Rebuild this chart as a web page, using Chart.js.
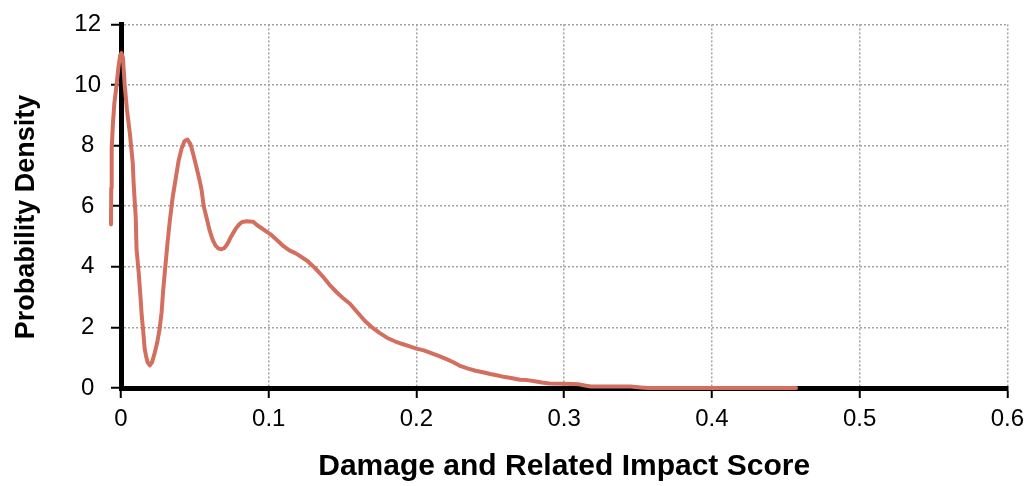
<!DOCTYPE html>
<html>
<head>
<meta charset="utf-8">
<script src="https://cdn.jsdelivr.net/npm/chart.js@4/dist/chart.umd.min.js"></script>
<style>
  html, body { margin: 0; padding: 0; background: #fff; }
</style>
</head>
<body>
<canvas id="myChart" width="1031" height="486"></canvas>
<script>
// kernel density of the damage score
const scoreX = [
  -0.0068, -0.0066, -0.0063, -0.0055, -0.0045, -0.003, -0.0017, -0.0005, 0.0003, 0.0013,
  0.0025, 0.004, 0.006, 0.008, 0.0085, 0.010, 0.0105, 0.012, 0.0135, 0.014,
  0.015, 0.016, 0.017, 0.018, 0.0195, 0.021, 0.0225, 0.0245, 0.026, 0.0275,
  0.0285, 0.030, 0.0315, 0.033, 0.035, 0.037, 0.039, 0.041, 0.043, 0.045,
  0.047, 0.049, 0.051, 0.053, 0.0545, 0.056, 0.058, 0.060, 0.062, 0.064,
  0.066, 0.068, 0.070, 0.072, 0.074, 0.076, 0.078, 0.080, 0.082, 0.085,
  0.0895, 0.092, 0.095, 0.098, 0.101, 0.104, 0.107, 0.110, 0.114, 0.118,
  0.122, 0.126, 0.130, 0.134, 0.138, 0.142, 0.146, 0.150, 0.155, 0.160,
  0.165, 0.170, 0.175, 0.180, 0.185, 0.190, 0.195, 0.200, 0.205, 0.210,
  0.215, 0.220, 0.225, 0.230, 0.235, 0.240, 0.245, 0.250, 0.255, 0.260,
  0.265, 0.270, 0.275, 0.280, 0.285, 0.290, 0.300, 0.310, 0.314, 0.318,
  0.345, 0.352, 0.357, 0.457
];
const density = [
  5.4, 6.6, 7.9, 8.7, 9.4, 10.0, 10.6, 11.0, 11.05, 10.9,
  10.0, 9.2, 8.4, 7.4, 6.8, 5.6, 4.6, 3.8, 2.8, 2.4,
  1.9, 1.3, 1.05, 0.85, 0.75, 0.85, 1.1, 1.5, 1.9, 2.5,
  3.2, 4.0, 4.8, 5.5, 6.3, 6.9, 7.5, 7.9, 8.15, 8.2,
  8.05, 7.7, 7.3, 6.9, 6.55, 6.0, 5.6, 5.2, 4.9, 4.7,
  4.6, 4.58, 4.62, 4.75, 4.95, 5.12, 5.28, 5.4, 5.48, 5.5,
  5.49, 5.38, 5.28, 5.18, 5.08, 4.95, 4.82, 4.68, 4.54, 4.45,
  4.33, 4.2, 4.02, 3.82, 3.6, 3.36, 3.16, 2.98, 2.78, 2.5,
  2.22, 2.0, 1.82, 1.66, 1.55, 1.46, 1.38, 1.3, 1.24, 1.15,
  1.06, 0.96, 0.85, 0.72, 0.64, 0.57, 0.52, 0.46, 0.41, 0.36,
  0.32, 0.27, 0.26, 0.22, 0.18, 0.15, 0.14, 0.12, 0.08, 0.05,
  0.05, 0.02, 0.0, 0.0
];
const xTicks = [0, 0.1, 0.2, 0.3, 0.4, 0.5, 0.6];
const yTicks = [0, 2, 4, 6, 8, 10, 12];
const xTitle = 'Damage and Related Impact Score';
const yTitle = 'Probability Density';

const fontFamily = "'Liberation Sans', Arial, Helvetica, sans-serif";

// y title drawn by hand so it can sit a bit lower than the axis centre
const yTitlePlugin = {
  id: 'yTitle',
  afterDraw(chart) {
    const ctx = chart.ctx;
    ctx.save();
    ctx.translate(27, 217);
    ctx.rotate(-Math.PI / 2);
    ctx.font = 'bold 27px ' + fontFamily;
    ctx.fillStyle = '#000';
    ctx.textAlign = 'center';
    ctx.textBaseline = 'middle';
    ctx.fillText(yTitle, 0, 0);
    ctx.restore();
  }
};

const ctx = document.getElementById('myChart').getContext('2d');
new Chart(ctx, {
  type: 'line',
  data: {
    datasets: [{
      data: scoreX.map((x, i) => ({ x: x, y: density[i] })),
      borderColor: '#d26f5f',
      borderWidth: 4,
      pointRadius: 0,
      tension: 0,
      clip: false,
      borderJoinStyle: 'round',
      borderCapStyle: 'round'
    }]
  },
  options: {
    responsive: false,
    animation: false,
    devicePixelRatio: 1,
    layout: { padding: { top: 19, right: 23, left: 0, bottom: 0 } },
    plugins: { legend: { display: false }, tooltip: { enabled: false } },
    scales: {
      x: {
        type: 'linear',
        // range set here (not via min/max) so the part of the curve left of 0 still gets drawn
        afterDataLimits: s => { s.min = 0; s.max = 0.6; },
        afterBuildTicks: s => { s.ticks = xTicks.map(v => ({ value: v })); },
        afterFit: s => { s.height = 98; },
        ticks: {
          color: '#000',
          padding: 7,
          maxRotation: 0,
          font: { family: fontFamily, size: 24 },
          callback: v => String(+v.toFixed(1))
        },
        grid: {
          color: '#a3a3a3',
          lineWidth: 1.5,
          tickColor: '#000',
          tickWidth: 2,
          tickLength: 10,
          tickBorderDash: []
        },
        border: { color: '#000', width: 5, dash: [2, 2] },
        title: {
          display: true,
          text: xTitle,
          color: '#000',
          font: { family: fontFamily, size: 30, weight: 'bold' },
          padding: { top: 0, bottom: 1 }
        }
      },
      y: {
        min: 0,
        max: 12,
        afterBuildTicks: s => { s.ticks = yTicks.map(v => ({ value: v })); },
        afterFit: s => { s.width = 121; },
        ticks: {
          color: '#000',
          padding: 10,
          crossAlign: 'center',
          font: { family: fontFamily, size: 24 }
        },
        grid: {
          color: '#a3a3a3',
          lineWidth: 1.5,
          tickColor: '#000',
          tickWidth: 2,
          tickLength: 10,
          tickBorderDash: []
        },
        border: { color: '#000', width: 5, dash: [2, 2] }
      }
    }
  },
  plugins: [yTitlePlugin]
});
</script>
</body>
</html>
